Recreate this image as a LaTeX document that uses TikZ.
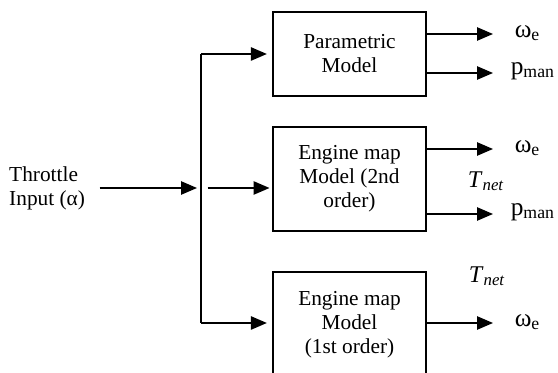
\documentclass[tikz,border=0pt]{standalone}
\usepackage{fontspec}
\setmainfont{Liberation Serif}
\usetikzlibrary{arrows.meta, positioning}

\begin{document}
\begin{tikzpicture}[x=0.75pt, y=-0.75pt, line width=1.2pt,
  >={Triangle[length=12pt, width=10pt]},
  font=\fontsize{16}{18}\selectfont,
  model/.style={draw, align=center, minimum width=114.75pt},
  outlabel/.style={anchor=west, inner sep=0pt, font=\fontsize{19}{20}\selectfont},
  torque/.style={font=\fontsize{18}{20}\selectfont}]
\useasboundingbox (0,0) rectangle (558,373);
\clip (0,0) rectangle (558,373);
% blocks
\node (param)[model, minimum height=63pt] at (349.5,54) {Parametric\\Model};
\node (map2)[model, minimum height=78pt] at (349.5,179) {Engine map\\Model (2nd\\order)};
\node (map1)[model, minimum height=79.5pt] at (349.5,325) {Engine map\\Model\\(1st order)};
% input and bus
\node (throttle)[align=left, anchor=west] at (4,188) {Throttle\\Input (α)};
\coordinate (bus) at (201,188);
\coordinate (btop) at (201,54);
\coordinate (bbot) at (201,323);
\draw (btop) -- (bbot);
\draw[->, shorten <=7pt, shorten >=3pt] (throttle.east) -- (bus);
\draw[->, shorten >=4pt] (btop) -- (param.west |- btop);
\draw[->, shorten <=5pt, shorten >=2pt] (bus) -- (map2.west |- bus);
\draw[->, shorten >=4pt] (bbot) -- (map1.west |- bbot);
% outputs
\coordinate (tipA) at (493,34);
\coordinate (tipB) at (493,73);
\coordinate (tipC) at (493,149);
\coordinate (tipD) at (493,214);
\coordinate (tipE) at (493,323);
\node (weA)[outlabel] at (514,33) {ω\textsubscript{e}};
\node (pmA)[outlabel] at (510,71) {p\textsubscript{man}};
\node (weB)[outlabel] at (514,148) {ω\textsubscript{e}};
\node (tnB)[torque] at (486,181) {\textit{T}\textsubscript{\textit{net}}};
\node (pmB)[outlabel] at (510,212) {p\textsubscript{man}};
\node (tnC)[torque] at (487,276) {\textit{T}\textsubscript{\textit{net}}};
\node (weC)[outlabel] at (514,322) {ω\textsubscript{e}};
\draw[->] (param.east |- tipA) -- (tipA);
\draw[->] (param.east |- tipB) -- (tipB);
\draw[->] (map2.east |- tipC) -- (tipC);
\draw[->] (map2.east |- tipD) -- (tipD);
\draw[->] (map1.east |- tipE) -- (tipE);
\end{tikzpicture}
\end{document}
